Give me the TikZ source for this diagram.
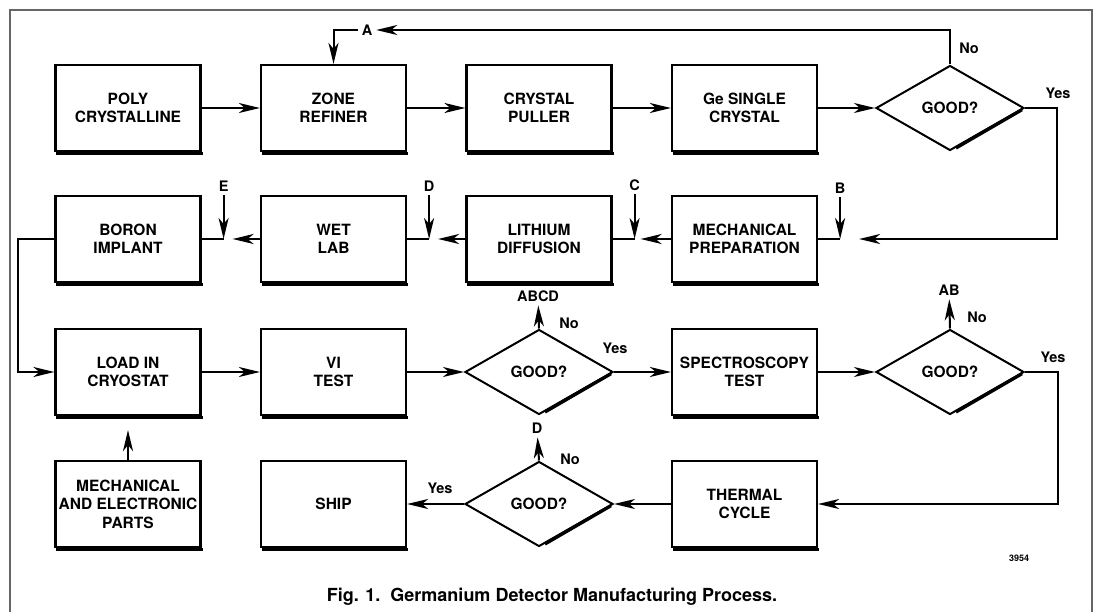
\documentclass[tikz,border=0pt]{standalone}
\usepackage{fontspec}
\setmainfont{TeX Gyre Heros}
\usetikzlibrary{positioning,calc,arrows.meta,shapes.geometric}

\begin{document}
\begin{tikzpicture}[
        x=1pt, y=-1pt,
        node distance=205.5pt,
        >={Stealth[length=21pt,width=10pt,inset=6pt]},
        line width=2pt,
        box/.style={
            rectangle,
            draw,
            line width=2.2pt,
            minimum width=145pt,
            minimum height=86pt,
            inner sep=1pt,
            align=center,
            font=\bfseries\fontsize{15.5}{18.5}\selectfont
        },
        test/.style={
            diamond,
            draw,
            line width=2pt,
            minimum width=148pt,
            minimum height=85pt,
            inner sep=1pt,
            font=\bfseries\fontsize{15.5}{18.5}\selectfont
        },
        tag/.style={
            inner sep=3pt,
            font=\bfseries\fontsize{14.5}{17}\selectfont
        }
    ]
        \useasboundingbox (0,0) rectangle (1097,612);
        \draw[line width=1.3pt, black!60] (10,612) -- (10,10) -- (1092,10) -- (1092,612);

        % Crystal growing (first row)
        \node (poly) [box] at (128,108) {POLY\\CRYSTALLINE};
        \node (zone) [box, right of=poly] {ZONE\\REFINER};
        \node (puller) [box, right of=zone] {CRYSTAL\\PULLER};
        \node (single) [box, right of=puller] {Ge SINGLE\\CRYSTAL};
        \node (good1) [test, right of=single] {GOOD?};

        % Processing (second row)
        \node (boron) [box, node distance=131pt, below of=poly] {BORON\\IMPLANT};
        \node (wet) [box, right of=boron] {WET\\LAB};
        \node (lithium) [box, right of=wet] {LITHIUM\\DIFFUSION};
        \node (mechprep) [box, right of=lithium] {MECHANICAL\\PREPARATION};

        % Testing (third row)
        \node (load) [box, node distance=133pt, below of=boron] {LOAD IN\\CRYOSTAT};
        \node (vi) [box, right of=load] {VI\\TEST};
        \node (good2) [test, right of=vi] {GOOD?};
        \node (spectro) [box, right of=good2] {SPECTROSCOPY\\TEST};
        \node (good3) [test, right of=spectro] {GOOD?};

        % Final checks (fourth row)
        \node (parts) [box, node distance=132pt, below of=load] {MECHANICAL\\AND ELECTRONIC\\PARTS};
        \node (ship) [box, right of=parts] {SHIP};
        \node (good4) [test, right of=ship] {GOOD?};
        \node (thermal) [box, right of=good4] {THERMAL\\CYCLE};

        % Heavy lower edges
        \foreach \n in {poly,zone,puller,single,boron,wet,lithium,mechprep,load,vi,spectro,parts,ship,thermal}
            \draw[line width=3pt] ([shift={(2pt,-1pt)}]\n.south west) -- ([shift={(1pt,-1pt)}]\n.south east);
        \foreach \n in {good1,good2,good3,good4}
            \draw[line width=3.2pt] ($(\n.south)!0.08!(\n.east)$) -- ($(\n.south)!0.96!(\n.east)$);

        % Re-entry points
        \coordinate (jE) at ([xshift=22pt]boron.east);
        \coordinate (jD) at ([xshift=22pt]wet.east);
        \coordinate (jC) at ([xshift=22pt]lithium.east);
        \coordinate (jB) at ([xshift=22pt]mechprep.east);
        \coordinate (tipE) at ([xshift=9pt]jE);
        \coordinate (tipD) at ([xshift=9pt]jD);
        \coordinate (tipC) at ([xshift=6pt]jC);
        \coordinate (tipB) at ([xshift=19pt]jB);
        \node (lE) [tag] at ([yshift=53pt]jE) {E};
        \node (lD) [tag] at ([yshift=53pt]jD) {D};
        \node (lC) [tag] at ([yshift=54pt]jC) {C};
        \node (lB) [tag] at ([yshift=51pt]jB) {B};
        \node (lA) [tag] at (367,30) {A};
        \node (lABCD) [tag] at (538,296) {ABCD};
        \node (lAB) [tag] at (949,290) {AB};
        \node (lD2) [tag] at (537,428) {D};

        % Yes / No
        \node (no1) [tag] at (969,48) {No};
        \node (yes1) [tag] at (1058,93) {Yes};
        \node (no2) [tag] at (569,323) {No};
        \node (yes2) [tag] at (615,348) {Yes};
        \node (no3) [tag] at (977,317) {No};
        \node (yes3) [tag] at (1053,357) {Yes};
        \node (no4) [tag] at (570,459) {No};
        \node (yes4) [tag] at (440,488) {Yes};

        % Edges
        \draw[->] (poly) -- (zone);
        \draw[->] (zone) -- (puller);
        \draw[->] (puller) -- (single);
        \draw[->] (single) -- (good1);
        \draw[->] (good1.north) |- (lA);
        \draw[->] (lA) -| (zone.north);
        \draw[->] (good1.east) -- ++(32,0) |- (tipB);

        \draw (mechprep.east) -- (jB);
        \draw (lithium.east) -- (jC);
        \draw (wet.east) -- (jD);
        \draw (boron.east) -- (jE);
        \draw[->] (lB) -- (jB);
        \draw[->] (lC) -- (jC);
        \draw[->] (lD) -- (jD);
        \draw[->] (lE) -- (jE);
        \draw[->] (mechprep.west) -- (tipC);
        \draw[->] (lithium.west) -- (tipD);
        \draw[->] (wet.west) -- (tipE);
        \draw[->] (boron.west) -- ++(-36,0) |- (load.west);

        \draw[->, shorten >=14pt] (parts) -- (load);
        \draw[->] (load) -- (vi);
        \draw[->] (vi) -- (good2);
        \draw[->] (good2) -- (spectro);
        \draw[->] (good2.north) -- (lABCD);
        \draw[->] (spectro) -- (good3);
        \draw[->] (good3.north) -- (lAB);
        \draw[->] (good3.east) -- ++(33,0) |- (thermal.east);

        \draw[->] (thermal) -- (good4);
        \draw[->] (good4) -- (ship);
        \draw[->] (good4.north) -- (lD2);

        % Caption
        \node (serial) [font=\bfseries\fontsize{9}{10}\selectfont] at (1019,558) {3954};
        \node (caption) [font=\bfseries\fontsize{18}{21}\selectfont] at (552,597)
            {Fig. 1.\ \ Germanium Detector Manufacturing Process.};
    \end{tikzpicture}
\end{document}
